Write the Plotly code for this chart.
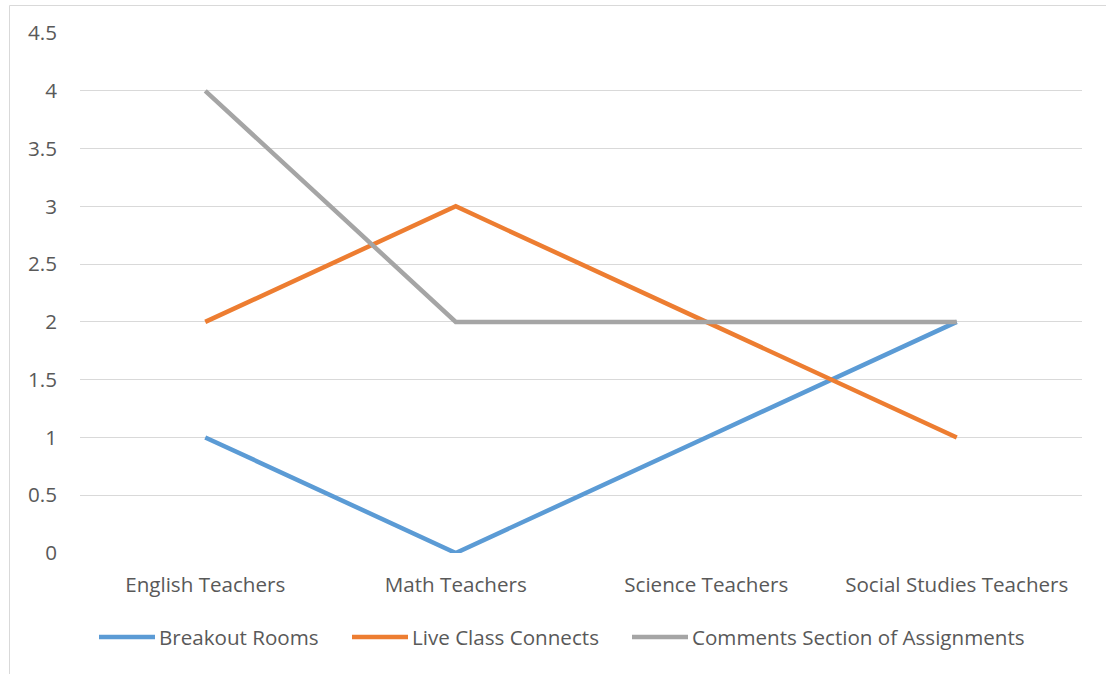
import plotly.graph_objects as go

categories = ["English Teachers", "Math Teachers", "Science Teachers", "Social Studies Teachers"]
series_names = ["Breakout Rooms", "Live Class Connects", "Comments Section of Assignments"]
breakout_rooms = [1, 0, 1, 2]
live_class = [2, 3, 2, 1]
comments_section = [4, 2, 2, 2]
y_ticks = [0, 0.5, 1, 1.5, 2, 2.5, 3, 3.5, 4, 4.5]
y_tick_labels = ["0", "0.5", "1", "1.5", "2", "2.5", "3", "3.5", "4", "4.5"]

colors = ["#5B9BD5", "#ED7D31", "#A5A5A5"]
values = [breakout_rooms, live_class, comments_section]

W, H = 1106, 674
ML, MR, MT, MB = 80, 24, 33, 121
PW, PH = W - ML - MR, H - MT - MB
FONT = "Open Sans"
FS = 20.6
TXT = "#595959"

fig = go.Figure()
for name, vals, col in zip(series_names, values, colors):
    fig.add_trace(go.Scatter(
        x=categories, y=vals, mode="lines", name=name,
        line=dict(color=col, width=4.5), showlegend=False,
    ))

def px_to_paper_x(px):
    return (px - ML) / PW

def px_to_paper_y(py):
    return (H - MB - py) / PH

# custom legend (long line symbols as in Excel)
legend_y = 637
legend_starts = [99, 352, 632]
line_len = 56
shapes = []
annotations = []
for name, col, x0 in zip(series_names, colors, legend_starts):
    shapes.append(dict(type="line", xref="paper", yref="paper",
                       x0=px_to_paper_x(x0), x1=px_to_paper_x(x0 + line_len),
                       y0=px_to_paper_y(legend_y), y1=px_to_paper_y(legend_y),
                       line=dict(color=col, width=4.5)))
    annotations.append(dict(xref="paper", yref="paper",
                            x=px_to_paper_x(x0 + line_len + 2), y=px_to_paper_y(legend_y),
                            xanchor="left", yanchor="middle", text=name, showarrow=False,
                            font=dict(family=FONT, size=FS, color=TXT)))

# chart border
shapes.append(dict(type="rect", xref="paper", yref="paper",
                   x0=px_to_paper_x(9.5), x1=px_to_paper_x(1125),
                   y0=px_to_paper_y(700), y1=px_to_paper_y(5.5),
                   line=dict(color="#D9D9D9", width=1), layer="below"))

fig.update_layout(
    width=W, height=H,
    margin=dict(l=ML, r=MR, t=MT, b=MB),
    paper_bgcolor="white", plot_bgcolor="white",
    font=dict(family=FONT, size=FS, color=TXT),
    shapes=shapes, annotations=annotations,
    showlegend=False,
)
fig.update_xaxes(type="category", range=[-0.5, 3.5], showgrid=False, showline=False,
                 zeroline=False, ticks="", tickfont=dict(family=FONT, size=FS, color=TXT),
                 ticklabelstandoff=17)
fig.update_yaxes(range=[0, 4.5], tickvals=y_ticks, ticktext=y_tick_labels,
                 showgrid=True, gridcolor="#D9D9D9", gridwidth=1, zeroline=False,
                 showline=False, ticks="", tickfont=dict(family=FONT, size=FS, color=TXT),
                 ticklabelstandoff=22)

fig.write_html("out.html")
